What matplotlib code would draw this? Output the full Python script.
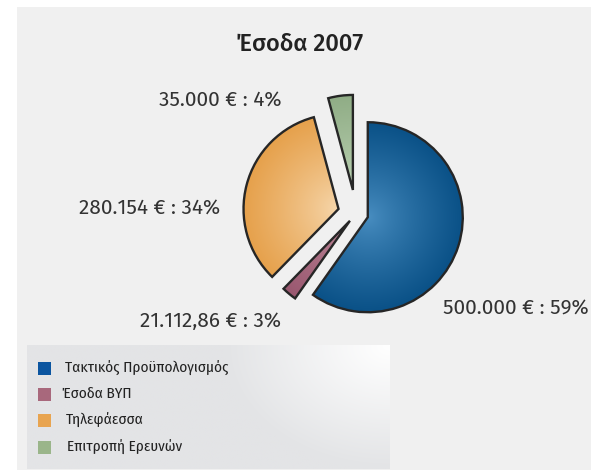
import numpy as np
import matplotlib
matplotlib.use("Agg")
import matplotlib.pyplot as plt
from matplotlib.colors import to_rgb

# data
categories = ["Τακτικός Προϋπολογισμός", "Έσοδα ΒΥΠ", "Τηλεφάεσσα", "Επιτροπή Ερευνών"]
amounts = [500000, 21112.86, 280154, 35000]
slice_labels = ["500.000 € : 59%", "21.112,86 € : 3%", "280.154 € : 34%", "35.000 € : 4%"]
title = "Έσοδα 2007"

base_colors = ["#0b55a0", "#a8687c", "#e8a450", "#9ab58a"]
light_colors = ["#4a8fc2", "#c08c9c", "#f7d9b0", "#bfd5b7"]
dark_colors = ["#0a5187", "#9a5870", "#e6a14c", "#90ad86"]
explode = [0.13, 0.10, 0.19, 0.25]

W, H = 591, 471
fig = plt.figure(figsize=(W / 100, H / 100), dpi=100)
ax = fig.add_axes([0, 0, 1, 1])

# background panel
ax.add_patch(plt.Rectangle((17, 1), W - 17, H - 8, facecolor="#f0f0f0", edgecolor="none", zorder=0))

# pie in pixel units (y up); pie's explode is absolute so scale by radius
cx, cy, R = 356, H - 213.5, 95
wedges, _ = ax.pie(amounts, explode=[e * R for e in explode], startangle=90, counterclock=False,
                   center=(cx, cy), radius=R, frame=True,
                   wedgeprops=dict(facecolor="none", edgecolor="#262626", linewidth=1.7, zorder=3))

# radial gradient fill for each wedge
for w, lc, dc in zip(wedges, light_colors, dark_colors):
    wx, wy = w.center
    xs = np.linspace(wx - R, wx + R, 200)
    ys = np.linspace(wy - R, wy + R, 200)
    X, Y = np.meshgrid(xs, ys)
    t = np.clip(np.hypot(X - wx, Y - wy) / R, 0, 1) ** 0.8
    img = (1 - t)[..., None] * np.array(to_rgb(lc)) + t[..., None] * np.array(to_rgb(dc))
    im = ax.imshow(img, extent=[wx - R, wx + R, wy - R, wy + R], origin="lower",
                   interpolation="bilinear", zorder=2)
    im.set_clip_path(w)

ax.set_xlim(0, W)
ax.set_ylim(0, H)
ax.set_aspect("auto")
ax.axis("off")

font = dict(family=["Fira Sans", "DejaVu Sans"])
font_leg = dict(family=["Fira Sans Condensed", "DejaVu Sans"])

ax.text(300, H - 44, title, ha="center", va="center", fontsize=17, fontweight="medium",
        color="#222222", **font)

# label centres, in the order of slice_labels
label_pos = [(516, H - 309), (211, H - 321), (150, H - 209), (220, H - 101)]
for (lx, ly), s in zip(label_pos, slice_labels):
    ax.text(lx, ly, s, ha="center", va="center", fontsize=15, color="#333333", **font)

# legend box with soft gradient towards top-right
lx0, lx1, ly0, ly1 = 27, 390, H - 469, H - 345
GX, GY = np.meshgrid(np.linspace(0, 1, 200), np.linspace(0, 1, 60))
t = np.clip(np.hypot((1 - GX) * 2.2, (1 - GY)), 0, 1)
limg = (1 - t)[..., None] * np.array(to_rgb("#ffffff")) + t[..., None] * np.array(to_rgb("#e3e4e6"))
ax.imshow(limg, extent=[lx0, lx1, ly0, ly1], origin="lower", interpolation="bilinear", zorder=1)

row_y = [368, 394, 420, 447]
text_x = [65, 62, 66, 67]
for name, col, ry, tx in zip(categories, base_colors, row_y, text_x):
    ax.add_patch(plt.Rectangle((38, H - ry - 6.5), 13, 13, facecolor=col, edgecolor="none", zorder=4))
    ax.text(tx, H - ry, name, ha="left", va="center", fontsize=11, color="#222222", zorder=5, **font_leg)

fig.savefig("out.png", dpi=100)
